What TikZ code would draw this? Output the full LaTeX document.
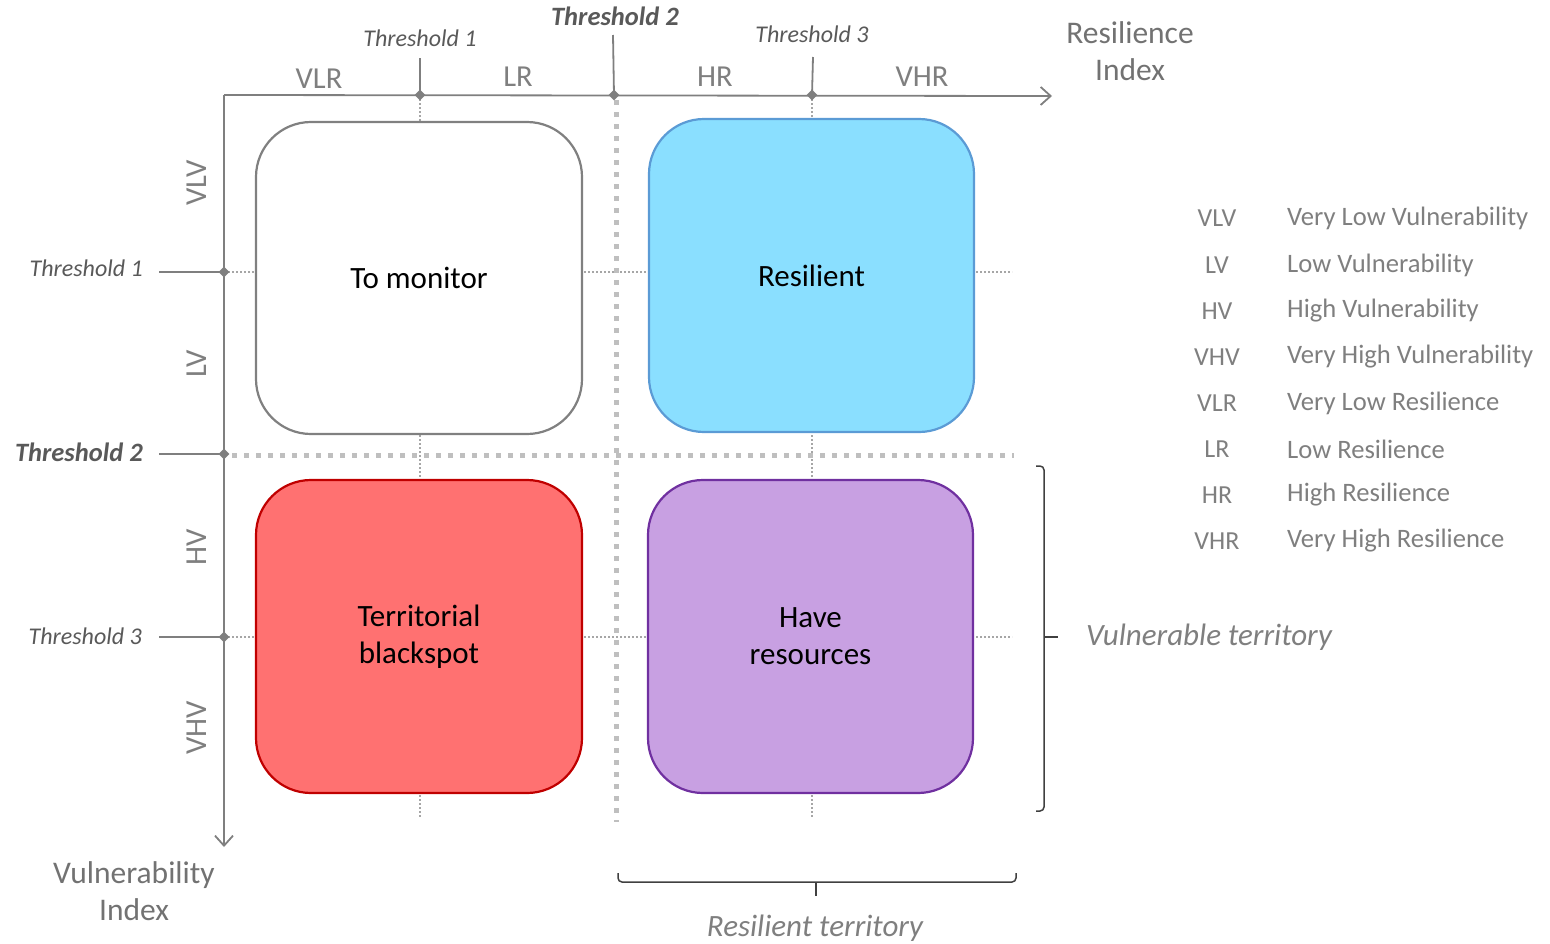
\documentclass[tikz,border=0pt]{standalone}
\usepackage{fontspec}
\setmainfont{Carlito}
\usetikzlibrary{arrows.meta,shapes.geometric}
\definecolor{axisgray}{HTML}{7F7F7F}
\definecolor{labgray}{HTML}{7F7F7F}
\definecolor{thrgray}{HTML}{595959}
\definecolor{dotgray}{HTML}{BFBFBF}
\definecolor{thingray}{HTML}{A6A6A6}
\definecolor{bracegray}{HTML}{404040}
\definecolor{resfill}{HTML}{8ADFFF}
\definecolor{resline}{HTML}{5B9BD5}
\definecolor{redfill}{HTML}{FF7171}
\definecolor{redline}{HTML}{C00000}
\definecolor{purfill}{HTML}{C8A0E2}
\definecolor{purline}{HTML}{7030A0}
\definecolor{boxline}{HTML}{808080}
\begin{document}
\begin{tikzpicture}[x=1pt,y=-1pt,
  lab/.style={text=labgray, font=\fontsize{30.5}{37}\selectfont, inner sep=0pt},
  thr/.style={text=thrgray, font=\fontsize{24}{28}\selectfont\itshape, inner sep=0pt},
  thrb/.style={text=thrgray, font=\fontsize{26.5}{28}\selectfont\bfseries\itshape, inner sep=0pt},
  leg/.style={text=labgray, font=\fontsize{26}{30}\selectfont, inner sep=0pt},
  legd/.style={text=labgray, font=\fontsize{26.6}{30}\selectfont, inner sep=0pt},
  axis/.style={draw=axisgray, line width=1.8pt},
  mk/.style={diamond, fill=axisgray, inner sep=0pt, minimum size=11pt},
  thickdot/.style={draw=dotgray, line width=5pt, dash pattern=on 5pt off 7pt},
  thindot/.style={draw=thingray, line width=1.5pt, dash pattern=on 2pt off 2pt},
  quad/.style={minimum width=326pt, minimum height=312pt, rounded corners=55pt,
     line width=2.2pt, inner sep=0pt, align=center, font=\fontsize{31}{37}\selectfont},
  bracestyle/.style={draw=bracegray, line width=1.5pt, rounded corners=4pt},
  tip/.style={-{Straight Barb[length=10pt,width=18pt,line width=1.8pt]}}
]
\useasboundingbox (0,0) rectangle (1550,943);

% thin dotted guide lines
\coordinate (v1a) at (420,95);  \coordinate (v1b) at (420,818);
\coordinate (v3a) at (812,95);  \coordinate (v3b) at (812,818);
\coordinate (h1a) at (224,272); \coordinate (h1b) at (1012,272);
\coordinate (h3a) at (224,637); \coordinate (h3b) at (1012,637);
\draw[thindot] (v1a) -- (v1b);
\draw[thindot] (v3a) -- (v3b);
\draw[thindot] (h1a) -- (h1b);
\draw[thindot] (h3a) -- (h3b);

% thick dotted threshold 2 lines
\coordinate (v2a) at (616,100); \coordinate (v2b) at (616,822);
\coordinate (h2a) at (232,455); \coordinate (h2b) at (1014,455);
\draw[thickdot] (v2a) -- (v2b);
\draw[thickdot] (h2a) -- (h2b);

% quadrants
\node[quad, draw=boxline, fill=white] (monitor) at (419,278) {To monitor};
\node[quad, draw=resline, fill=resfill, minimum width=325pt, minimum height=313pt] (resilient) at (811.5,275.5) {Resilient};
\node[quad, draw=redline, fill=redfill, minimum height=313pt] (blackspot) at (419,636.5) {Territorial\\blackspot};
\node[quad, draw=purline, fill=purfill, minimum width=325pt, minimum height=313pt] (resources) at (810.5,636.5) {Have\\resources};

% axes
\coordinate (O) at (224,95);
\coordinate (XE) at (1052,96);
\coordinate (YE) at (224,847);
\draw[axis, tip] (O) -- (XE);
\draw[axis, tip] (O) -- (YE);

% top thresholds
\node[mk] (tx1) at (420,95) {};
\node[mk] (tx2) at (614,95) {};
\node[mk] (tx3) at (812,95) {};
\coordinate (tx1t) at (420,58);
\coordinate (tx2t) at (613,35);
\coordinate (tx3t) at (813,57);
\draw[axis] (tx1t) -- (tx1.center);
\draw[axis] (tx2t) -- (tx2.center);
\draw[axis] (tx3t) -- (tx3.center);
\node[thr]  (tl1) at (420,38) {Threshold 1};
\node[thrb] (tl2) at (615,16) {Threshold 2};
\node[thr]  (tl3) at (812,34) {Threshold 3};

% left thresholds
\node[mk] (ty1) at (224,272) {};
\node[mk] (ty2) at (224,454) {};
\node[mk] (ty3) at (224,637) {};
\coordinate (ty1l) at (159,272);
\coordinate (ty2l) at (159,454);
\coordinate (ty3l) at (159,637);
\draw[axis] (ty1l) -- (ty1.center);
\draw[axis] (ty2l) -- (ty2.center);
\draw[axis] (ty3l) -- (ty3.center);
\node[thr, anchor=east]  (yl1) at (143,268) {Threshold 1};
\node[thrb, anchor=east] (yl2) at (143,452) {Threshold 2};
\node[thr, anchor=east]  (yl3) at (142,636) {Threshold 3};

% axis segment labels
\node[lab] (vlr) at (319,79) {VLR};
\node[lab] (lr)  at (518,77) {LR};
\node[lab] (hr)  at (715,77) {HR};
\node[lab] (vhr) at (922,77) {VHR};
\node[lab, rotate=90] (vlv) at (197,183) {VLV};
\node[lab, rotate=90] (lv)  at (197,364) {LV};
\node[lab, rotate=90] (hv)  at (197,547) {HV};
\node[lab, rotate=90] (vhv) at (197,728) {VHV};

% axis titles
\node[lab, align=center, text=thrgray!85, font=\fontsize{31.5}{37}\selectfont] (xtitle) at (1130,51) {Resilience\\Index};
\node[lab, align=center, text=thrgray!85, font=\fontsize{31.5}{37}\selectfont] (ytitle) at (134,891) {Vulnerability\\Index};

% braces
\coordinate (rb1) at (1036,466); \coordinate (rb2) at (1036,811);
\coordinate (rbm) at (1044,637); \coordinate (rbt) at (1058,637);
\draw[bracestyle] (rb1) -- (1044,466) -- (1044,811) -- (rb2);
\draw[bracestyle] (rbm) -- (rbt);
\node[lab, anchor=west, font=\fontsize{31}{37}\selectfont\itshape] (vulnt) at (1086,637) {Vulnerable territory};

\coordinate (bb1) at (618,873); \coordinate (bb2) at (1016,873);
\coordinate (bbm) at (816,882); \coordinate (bbt) at (816,896);
\draw[bracestyle] (bb1) -- (618,882) -- (1016,882) -- (bb2);
\draw[bracestyle] (bbm) -- (bbt);
\node[lab, font=\fontsize{31}{37}\selectfont\itshape] (rest) at (815,928) {Resilient territory};

% legend
\foreach \ab/\desc/\yy [count=\i] in {VLV/Very Low Vulnerability/218, LV/Low Vulnerability/265,
   HV/High Vulnerability/311, VHV/Very High Vulnerability/357, VLR/Very Low Resilience/403,
   LR/Low Resilience/449, HR/High Resilience/495, VHR/Very High Resilience/541}{
  \node[leg] (la\i) at (1217,\yy) {\ab};
  \node[legd, anchor=west] (ld\i) at (1287,\yy) {\desc};
}
\end{tikzpicture}
\end{document}
